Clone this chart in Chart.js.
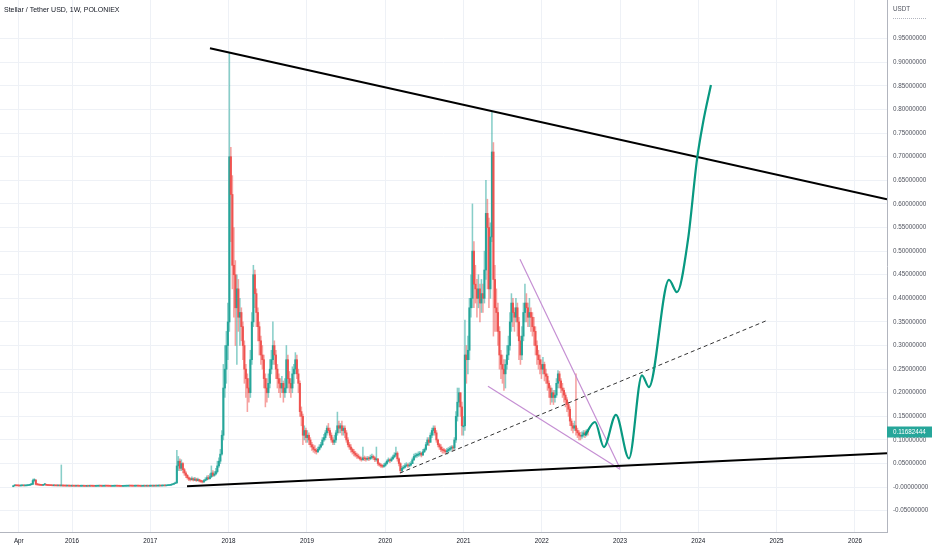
<!DOCTYPE html>
<html>
<head>
<meta charset="utf-8">
<script src="https://cdn.jsdelivr.net/npm/chart.js@4.4.1/dist/chart.umd.min.js"></script>
<style>
html, body { margin: 0; padding: 0; background: #fff; }
#myChart { display: block; }
</style>
</head>
<body>
<canvas id="myChart" width="932" height="550"></canvas>
<script>
// weekly XLM/USDT candles, first week ~ Apr 2015
var firstWeek = 2015.25;
var weekYears = 7 / 365.25;

var closes = [
    .003, .0035, .003, .0028, .0026, .003, .0032, .0028, .003, .0034,
    .004, .005, .006, .014, .015, .006, .005, .0045, .004, .0038,
    .005, .006, .004, .0036, .0034, .0032, .003, .0031, .0029, .0028,
    .003, .0027, .003, .0026, .0025, .0024, .0026, .0023, .0022, .0024,
    .0022, .0021, .0023, .0022, .002, .0021, .0022, .002, .0019, .0021,
    .002, .0022, .0021, .002, .0019, .002, .0021, .0023, .0022, .002,
    .0021, .0024, .0022, .0021, .002, .0019, .002, .0021, .0022, .0021,
    .002, .0019, .0018, .0019, .002, .0021, .0022, .0024, .0023, .0022,
    .0021, .0022, .0023, .0022, .0021, .002, .0021, .0022, .0021, .0022,
    .0021, .0022, .0023, .0022, .0024, .0023, .0025, .0026, .0025, .0027,
    .003, .0028, .0032, .0035, .004, .005, .006, .0075, .009, .045,
    .055, .04, .05, .037, .03, .025, .02, .017, .016, .018,
    .015, .017, .014, .016, .013, .012, .011, .014, .016, .02,
    .018, .022, .03, .025, .028, .033, .045, .055, .07, .11,
    .21, .25, .30, .35, .70, .62, .47, .45, .38, .42,
    .36, .37, .34, .30, .25, .23, .21, .20, .27, .35,
    .45, .41, .37, .34, .31, .28, .27, .23, .21, .20,
    .22, .25, .27, .30, .28, .25, .23, .22, .21, .22,
    .20, .21, .27, .23, .22, .21, .24, .25, .27, .24,
    .22, .16, .15, .11, .12, .105, .11, .10, .09, .085,
    .08, .078, .075, .08, .085, .09, .10, .105, .115, .125,
    .12, .11, .10, .095, .10, .115, .13, .125, .13, .12,
    .125, .115, .10, .09, .085, .08, .075, .072, .068, .066,
    .063, .06, .058, .062, .06, .059, .061, .06, .063, .065,
    .062, .058, .06, .05, .047, .045, .044, .046, .05, .055,
    .058, .056, .06, .064, .068, .072, .06, .05, .035, .04,
    .042, .045, .047, .045, .047, .05, .058, .065, .067, .068,
    .07, .072, .068, .075, .08, .09, .10, .095, .11, .12,
    .125, .115, .10, .09, .085, .08, .078, .077, .075, .077,
    .08, .082, .085, .083, .10, .15, .18, .20, .17, .13,
    .13, .28, .27, .29, .38, .40, .50, .43, .42, .40,
    .42, .39, .41, .40, .46, .58, .55, .42, .53, .71,
    .44, .38, .37, .33, .28, .26, .25, .24, .26, .28,
    .30, .35, .39, .37, .36, .38, .35, .31, .28, .32,
    .37, .39, .38, .36, .37, .36, .34, .33, .30, .28,
    .27, .26, .25, .26, .24, .235, .22, .21, .19, .20,
    .19, .195, .22, .24, .225, .21, .205, .195, .185, .175,
    .165, .14, .13, .125, .13, .12, .115, .11, .108, .11,
    .115, .112, .118, .11682444
];

var highs = [
    .0035, .004, .0036, .0032, .003, .0034, .0036, .0033, .0034, .0038,
    .0045, .0055, .008, .017, .018, .016, .008, .0055, .005, .0045,
    .0055, .008, .0062, .0042, .004, .0037, .0035, .0035, .0033, .0032,
    .0034, .0032, .047, .0031, .0029, .0028, .003, .0028, .0026, .0027,
    .0026, .0025, .0026, .0025, .0024, .0024, .0025, .0024, .0022, .0024,
    .0024, .0025, .0024, .0023, .0022, .0023, .0024, .0026, .0026, .0024,
    .0024, .0027, .0026, .0024, .0023, .0022, .0023, .0024, .0025, .0024,
    .0023, .0022, .0021, .0022, .0023, .0024, .0025, .0027, .0026, .0025,
    .0024, .0025, .0026, .0025, .0024, .0023, .0024, .0025, .0024, .0025,
    .0024, .0025, .0026, .0025, .0027, .0026, .0028, .0029, .0028, .003,
    .0034, .0032, .0036, .0039, .0045, .0056, .0068, .0085, .011, .078,
    .065, .06, .058, .052, .04, .033, .027, .022, .02, .022,
    .02, .021, .019, .019, .017, .015, .014, .016, .02, .024,
    .025, .028, .045, .035, .033, .04, .055, .062, .08, .12,
    .26, .30, .33, .39, .92, .72, .66, .55, .48, .45,
    .44, .40, .38, .35, .31, .26, .24, .23, .29, .37,
    .47, .46, .42, .38, .35, .32, .30, .28, .24, .23,
    .24, .27, .29, .35, .31, .29, .26, .24, .23, .235,
    .225, .23, .30, .28, .245, .23, .255, .26, .285, .28,
    .25, .225, .17, .155, .13, .125, .12, .115, .105, .095,
    .09, .088, .082, .085, .09, .095, .105, .112, .12, .13,
    .135, .125, .115, .105, .11, .12, .159, .14, .135, .14,
    .13, .13, .12, .105, .095, .09, .083, .08, .076, .072,
    .07, .066, .064, .085, .066, .064, .065, .065, .068, .07,
    .068, .064, .085, .06, .052, .05, .048, .05, .053, .058,
    .062, .06, .064, .068, .073, .085, .075, .062, .052, .044,
    .046, .05, .052, .05, .052, .054, .062, .07, .072, .072,
    .075, .076, .074, .08, .083, .095, .105, .105, .115, .125,
    .13, .13, .12, .102, .093, .09, .085, .082, .08, .082,
    .084, .086, .088, .088, .105, .16, .21, .21, .20, .18,
    .15, .354, .30, .32, .40, .45, .60, .52, .47, .44,
    .45, .43, .44, .43, .50, .65, .61, .57, .56, .795,
    .73, .47, .42, .39, .34, .29, .28, .27, .27, .30,
    .32, .37, .41, .40, .38, .40, .39, .36, .32, .34,
    .39, .43, .41, .39, .40, .38, .37, .36, .34, .31,
    .29, .28, .27, .275, .265, .25, .24, .225, .215, .21,
    .205, .205, .23, .247, .245, .23, .22, .21, .20, .19,
    .18, .17, .145, .135, .14, .24, .125, .12, .116, .117,
    .12, .12, .122, .121
];

var lows = [
    .0025, .0028, .0026, .0024, .0022, .0024, .0027, .0025, .0026, .0028,
    .0032, .0038, .0048, .006, .012, .005, .0042, .004, .0036, .0034,
    .0036, .0045, .0036, .0032, .003, .0029, .0028, .0028, .0027, .0026,
    .0026, .0025, .0024, .0023, .0022, .0021, .0022, .0021, .002, .002,
    .0019, .0019, .002, .0019, .0018, .0019, .0019, .0018, .0017, .0018,
    .0018, .0019, .0019, .0018, .0017, .0018, .0019, .002, .0019, .0018,
    .0019, .002, .002, .0019, .0018, .0017, .0018, .0019, .0019, .0019,
    .0018, .0017, .0016, .0017, .0018, .0019, .002, .0021, .0021, .002,
    .0019, .002, .0021, .002, .0019, .0018, .0019, .002, .0019, .002,
    .0019, .002, .0021, .002, .0021, .0021, .0022, .0023, .0023, .0024,
    .0026, .0026, .0027, .003, .0034, .0038, .0048, .0058, .0072, .0085,
    .035, .035, .035, .03, .025, .02, .017, .014, .013, .015,
    .013, .014, .012, .013, .011, .01, .009, .01, .013, .015,
    .016, .017, .02, .022, .023, .026, .03, .042, .05, .068,
    .10, .19, .22, .27, .33, .52, .42, .36, .30, .26,
    .33, .30, .31, .27, .22, .19, .16, .18, .19, .26,
    .34, .38, .34, .31, .28, .26, .25, .21, .17, .18,
    .19, .21, .24, .26, .26, .23, .21, .20, .19, .20,
    .18, .19, .20, .21, .20, .19, .20, .22, .24, .23,
    .20, .15, .13, .09, .10, .095, .095, .09, .085, .078,
    .074, .072, .07, .073, .078, .083, .088, .097, .10, .11,
    .115, .105, .095, .09, .09, .095, .11, .115, .115, .11,
    .11, .105, .095, .085, .08, .074, .07, .066, .064, .061,
    .06, .057, .055, .057, .056, .055, .057, .056, .058, .06,
    .058, .054, .055, .046, .044, .042, .041, .042, .044, .048,
    .053, .052, .054, .058, .062, .065, .055, .045, .03, .032,
    .038, .04, .043, .042, .043, .045, .05, .056, .062, .063,
    .065, .066, .064, .067, .073, .078, .088, .088, .095, .105,
    .11, .11, .095, .085, .08, .075, .072, .072, .07, .07,
    .074, .076, .078, .078, .08, .095, .14, .17, .15, .11,
    .11, .12, .22, .24, .27, .36, .38, .38, .39, .36,
    .38, .35, .37, .37, .39, .44, .42, .38, .40, .52,
    .32, .33, .33, .30, .25, .23, .22, .205, .21, .25,
    .27, .29, .33, .34, .33, .35, .32, .27, .26, .27,
    .31, .35, .35, .34, .34, .33, .32, .30, .28, .26,
    .25, .24, .23, .24, .225, .22, .205, .19, .175, .18,
    .175, .18, .19, .21, .21, .20, .19, .18, .17, .16,
    .15, .13, .12, .115, .12, .11, .105, .10, .10, .103,
    .106, .105, .108, .11
];

// hand drawn projection (green curve)
var projX = [2022.552, 2022.680, 2022.794, 2022.948, 2023.114, 2023.280, 2023.369,
             2023.625, 2023.727, 2023.867, 2023.982, 2024.059, 2024.161];
var projY = [0.110, 0.138, 0.085, 0.153, 0.061, 0.237, 0.212,
             0.439, 0.413, 0.523, 0.693, 0.771, 0.852];

// drawn trend lines [year, price]
var topLine = [[2017.762, 0.930], [2026.41, 0.610]];
var bottomLine = [[2017.469, 0.002], [2026.41, 0.072]];
var supportLine = [[2020.189, 0.030], [2024.889, 0.354]];
var wedgeTop = [[2021.722, 0.483], [2022.999, 0.040]];
var wedgeBottom = [[2021.313, 0.214], [2022.999, 0.038]];

var yTickValues = [-0.05, 0, 0.05, 0.1, 0.15, 0.2, 0.25, 0.3, 0.35, 0.4, 0.45,
                   0.5, 0.55, 0.6, 0.65, 0.7, 0.75, 0.8, 0.85, 0.9, 0.95];
var yTickLabels = ['-0.05000000', '-0.00000000', '0.05000000', '0.10000000', '0.15000000',
                   '0.20000000', '0.25000000', '0.30000000', '0.35000000', '0.40000000',
                   '0.45000000', '0.50000000', '0.55000000', '0.60000000', '0.65000000',
                   '0.70000000', '0.75000000', '0.80000000', '0.85000000', '0.90000000',
                   '0.95000000'];
var xTickValues = [2015.32, 2016, 2017, 2018, 2019, 2020, 2021, 2022, 2023, 2024, 2025, 2026];
var xTickLabels = ['Apr', '2016', '2017', '2018', '2019', '2020', '2021', '2022', '2023', '2024', '2025', '2026'];

var UP = '#26a69a';
var DOWN = '#ef5350';
var AXIS_FONT = { family: '"Liberation Sans", Arial, sans-serif', size: 6.3 };

function toPoints(pairs) {
    return pairs.map(function (p) { return { x: p[0], y: p[1] }; });
}

function buildCandles() {
    var out = { bodies: [], wicks: [], bodyColors: [], wickColors: [] };
    for (var i = 0; i < closes.length; i++) {
        var o = i === 0 ? closes[0] : closes[i - 1];
        var c = closes[i];
        var t = firstWeek + i * weekYears;
        out.bodies.push({ x: t, y: [o, c] });
        out.wicks.push({ x: t, y: [lows[i], highs[i]] });
        var up = c >= o;
        out.bodyColors.push(up ? UP : DOWN);
        out.wickColors.push(up ? 'rgba(38,166,154,0.55)' : 'rgba(239,83,80,0.55)');
    }
    return out;
}

var overlay = {
    id: 'overlay',
    afterDraw: function (chart) {
        var ctx = chart.ctx;
        var area = chart.chartArea;
        ctx.save();
        ctx.textBaseline = 'middle';
        ctx.font = '7px "Liberation Sans", Arial, sans-serif';
        ctx.fillStyle = '#131722';
        ctx.fillText('Stellar / Tether USD, 1W, POLONIEX', 4, 10);

        ctx.font = '6.3px "Liberation Sans", Arial, sans-serif';
        ctx.fillStyle = '#50535e';
        ctx.fillText('USDT', area.right + 6, 9);
        ctx.strokeStyle = '#b2b5be';
        ctx.setLineDash([1, 1]);
        ctx.beginPath();
        ctx.moveTo(area.right + 6, 18.5);
        ctx.lineTo(area.right + 40, 18.5);
        ctx.stroke();
        ctx.setLineDash([]);

        var last = closes[closes.length - 1];
        var py = chart.scales.y.getPixelForValue(last);
        ctx.fillStyle = UP;
        ctx.fillRect(area.right, py - 5.5, 45, 11);
        ctx.fillStyle = '#fff';
        ctx.fillText('0.11682444', area.right + 6, py);
        ctx.restore();
    }
};

function run() {
    var candles = buildCandles();
    var ctx = document.getElementById('myChart').getContext('2d');

    var data = {
        datasets: [
            {
                type: 'bar', data: candles.wicks, backgroundColor: candles.wickColors,
                barThickness: 0.9, grouped: false, order: 3
            },
            {
                type: 'bar', data: candles.bodies, backgroundColor: candles.bodyColors,
                barThickness: 1.4, minBarLength: 1, grouped: false, order: 2
            },
            {
                type: 'line', data: toPoints(topLine), borderColor: '#000',
                borderWidth: 2, pointRadius: 0, order: 1
            },
            {
                type: 'line', data: toPoints(bottomLine), borderColor: '#000',
                borderWidth: 2, pointRadius: 0, order: 1
            },
            {
                type: 'line', data: toPoints(supportLine), borderColor: '#333',
                borderWidth: 1, borderDash: [4, 3], pointRadius: 0, order: 1
            },
            {
                type: 'line', data: toPoints(wedgeTop), borderColor: '#c58fd3',
                borderWidth: 1.2, pointRadius: 0, order: 1
            },
            {
                type: 'line', data: toPoints(wedgeBottom), borderColor: '#c58fd3',
                borderWidth: 1.2, pointRadius: 0, order: 1
            },
            {
                type: 'line',
                data: projX.map(function (x, i) { return { x: x, y: projY[i] }; }),
                borderColor: '#089981', borderWidth: 2.2, pointRadius: 0,
                cubicInterpolationMode: 'monotone', order: 0
            }
        ]
    };

    var config = {
        type: 'bar',
        data: data,
        options: {
            responsive: false,
            animation: false,
            layout: { padding: 0 },
            plugins: { legend: { display: false }, tooltip: { enabled: false } },
            scales: {
                x: {
                    type: 'linear',
                    min: 2015.08,
                    max: 2026.41,
                    offset: false,
                    afterBuildTicks: function (scale) {
                        scale.ticks = xTickValues.map(function (v) { return { value: v }; });
                    },
                    afterFit: function (scale) {
                        scale.height = 18;
                        scale.paddingLeft = 0;
                        scale.paddingRight = 0;
                    },
                    ticks: {
                        autoSkip: false,
                        maxRotation: 0,
                        padding: 5,
                        color: '#131722',
                        font: AXIS_FONT,
                        callback: function (value, index) { return xTickLabels[index]; }
                    },
                    grid: { color: '#eef1f6', drawTicks: false, offset: false },
                    border: { display: true, color: '#b2b5be' }
                },
                y: {
                    type: 'linear',
                    position: 'right',
                    min: -0.095,
                    max: 1.032,
                    afterBuildTicks: function (scale) {
                        scale.ticks = yTickValues.map(function (v) { return { value: v }; });
                    },
                    afterFit: function (scale) {
                        scale.width = 45;
                        scale.paddingTop = 0;
                        scale.paddingBottom = 0;
                    },
                    ticks: {
                        padding: 6,
                        color: '#50535e',
                        font: AXIS_FONT,
                        callback: function (value, index) { return yTickLabels[index]; }
                    },
                    grid: { color: '#eef1f6', drawTicks: false },
                    border: { display: true, color: '#b2b5be' }
                }
            }
        },
        plugins: [overlay]
    };

    myChart = new Chart(ctx, config);
}

var myChart;
run();
</script>
</body>
</html>
